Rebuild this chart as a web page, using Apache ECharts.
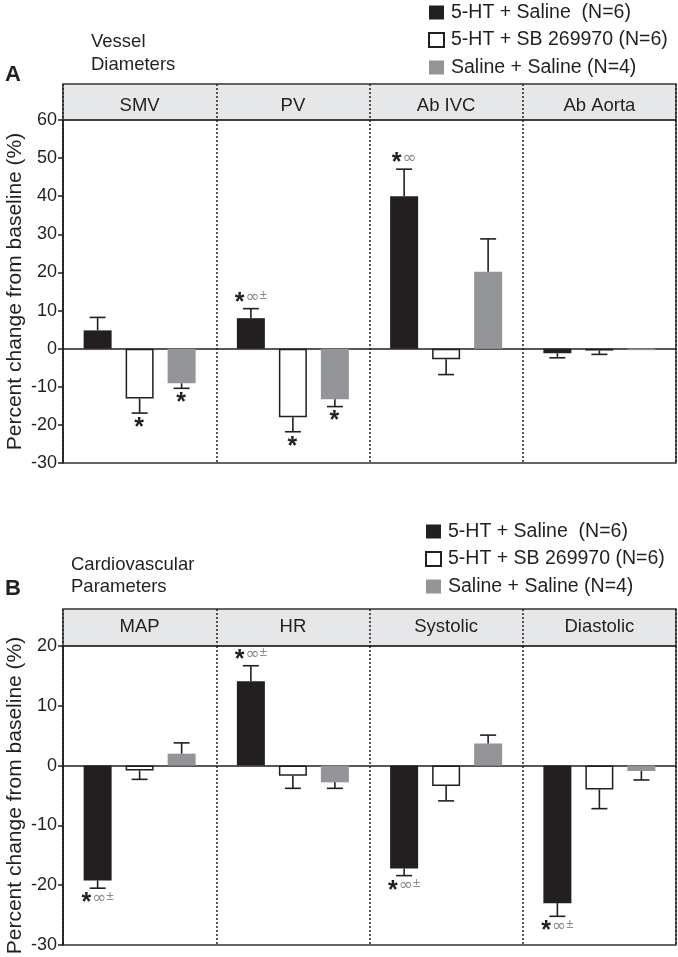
<!DOCTYPE html>
<html>
<head>
<meta charset="utf-8">
<script src="https://cdn.jsdelivr.net/npm/echarts@6/dist/echarts.min.js"></script>
<style>
  html, body { margin: 0; padding: 0; background: #fff; }
  #chart { width: 678px; height: 957px; }
</style>
</head>
<body>
<div id="chart"></div>
<script>
// data
var seriesNames = ['5-HT + Saline  (N=6)', '5-HT + SB 269970 (N=6)', 'Saline + Saline (N=4)'];

var catsA = ['SMV', 'PV', 'Ab IVC', 'Ab Aorta'];
var htSalineA = [4.8, 8.0, 40.0, -1.2];
var htSalineErrA = [3.4, 2.5, 7.1, 1.2];
var htSbA = [-13.1, -18.0, -2.8, -0.5];
var htSbErrA = [3.8, 3.8, 4.0, 1.0];
var salineA = [-9.1, -13.3, 20.2, -0.4];
var salineErrA = [1.3, 1.9, 8.6, 0];
var htSalineAnnA = ['', '*∞±', '*∞', ''];
var htSbAnnA = ['*', '*', '', ''];
var salineAnnA = ['*', '*', '', ''];

var catsB = ['MAP', 'HR', 'Systolic', 'Diastolic'];
var htSalineB = [-19.2, 14.1, -17.2, -23.0];
var htSalineErrB = [1.3, 2.6, 1.2, 2.2];
var htSbB = [-0.8, -1.7, -3.4, -4.0];
var htSbErrB = [1.5, 2.1, 2.5, 3.2];
var salineB = [2.0, -2.8, 3.7, -0.9];
var salineErrB = [1.8, 1.0, 1.4, 1.5];
var htSalineAnnB = ['*∞±', '*∞±', '*∞±', '*∞±'];
var htSbAnnB = ['', '', '', ''];
var salineAnnB = ['', '', '', ''];

var ink = '#231f20';
var barColors = [ink, '#ffffff', '#939598'];
var barW = 28, barGapPx = 14;
var font = 'Liberation Sans, Arial, sans-serif';

var chart = echarts.init(document.getElementById('chart'));

// turns '*∞±' into rich text pieces
function annText(s) {
  var out = '';
  for (var k = 0; k < s.length; k++) {
    var c = s[k];
    if (c === '*') out += '{s|*}';
    else if (c === '∞') out += '{i|∞}';
    else if (c === '±') out += '{p|±}';
  }
  return out;
}

function errSeries(gridIdx, slot, vals, errs, anns) {
  var data = vals.map(function (v, i) { return [i, v, errs[i]]; });
  return {
    type: 'custom',
    name: 'err',
    xAxisIndex: gridIdx * 2 + 1,
    yAxisIndex: gridIdx * 2 + 1,
    z: 5,
    silent: true,
    data: data,
    renderItem: function (params, api) {
      var i = api.value(0), v = api.value(1), e = api.value(2);
      var dir = v >= 0 ? 1 : -1;
      var off = (slot - 1) * (barW + barGapPx);
      var p0 = api.coord([i, v]);
      var p1 = api.coord([i, v + dir * e]);
      var x = p0[0] + off;
      var kids = [];
      if (e > 0) {
        kids.push({ type: 'line', shape: { x1: x, y1: p0[1], x2: x, y2: p1[1] },
          style: { stroke: ink, lineWidth: 1.6 } });
        kids.push({ type: 'line', shape: { x1: x - 8, y1: p1[1], x2: x + 8, y2: p1[1] },
          style: { stroke: ink, lineWidth: 1.6 } });
      }
      var a = anns[params.dataIndex];
      if (a) {
        kids.push({
          type: 'text',
          x: x,
          y: p1[1] + (dir > 0 ? -11 : 10),
          style: {
            text: annText(a),
            align: 'center',
            verticalAlign: 'middle',
            rich: {
              s: { fontSize: 25, fontWeight: 'bold', fill: ink, fontFamily: font, padding: [10, 1, 0, 0] },
              i: { fontSize: 17, fill: '#8a8a8a', fontFamily: 'DejaVu Sans' },
              p: { fontSize: 13, fill: '#8a8a8a', fontFamily: font, padding: [0, 0, 4, 0] }
            }
          }
        });
      }
      return { type: 'group', children: kids };
    }
  };
}

function barSeries(gridIdx, slot, vals) {
  return {
    type: 'bar',
    name: seriesNames[slot],
    xAxisIndex: gridIdx * 2 + 1,
    yAxisIndex: gridIdx * 2 + 1,
    barWidth: barW,
    barGap: '50%',
    z: 3,
    itemStyle: slot === 1
      ? { color: '#ffffff', borderColor: ink, borderWidth: 1.5 }
      : { color: barColors[slot] },
    data: vals
  };
}

function headerAxis(gridIdx, cats, margin) {
  return {
    type: 'category',
    gridIndex: gridIdx * 2,
    data: cats,
    position: 'top',
    axisLine: { show: false },
    axisTick: { show: false },
    axisLabel: { inside: true, margin: margin, verticalAlign: 'middle',
      fontSize: 18.5, color: ink, fontFamily: font },
    splitLine: { show: true, interval: 0, lineStyle: { color: ink, width: 1.5, type: [2, 2] } }
  };
}

function mainXAxis(gridIdx, cats) {
  return {
    type: 'category',
    gridIndex: gridIdx * 2 + 1,
    data: cats,
    axisLine: { show: true, onZero: true, lineStyle: { color: ink, width: 1.5 } },
    axisTick: { show: false },
    axisLabel: { show: false },
    splitLine: { show: true, interval: 0, lineStyle: { color: ink, width: 1.5, type: [2, 2] } }
  };
}

function mainYAxis(gridIdx, min, max) {
  return {
    type: 'value',
    gridIndex: gridIdx * 2 + 1,
    min: min, max: max, interval: 10,
    name: 'Percent change from baseline (%)',
    nameLocation: 'middle',
    nameRotate: 90,
    nameGap: 37,
    nameMoveOverlap: false,
    nameTextStyle: { fontSize: 21, color: ink, fontFamily: font },
    axisLine: { show: true, lineStyle: { color: ink, width: 1.5 } },
    axisTick: { show: true, length: 5, lineStyle: { color: ink, width: 1.5 } },
    axisLabel: { fontSize: 18, color: ink, fontFamily: font, margin: 6 },
    splitLine: { show: false }
  };
}

function legendFor(left, top) {
  return {
    orient: 'vertical',
    left: left, top: top,
    padding: 0,
    icon: 'rect',
    itemWidth: 15, itemHeight: 14,
    itemGap: 7.5,
    data: seriesNames,
    selectedMode: false,
    textStyle: { fontSize: 19.5, lineHeight: 20, color: ink, fontFamily: font, padding: [0, 0, 0, 2] }
  };
}

function gridBox(top, height, bg) {
  return { left: 63, right: 2, top: top, height: height, show: true,
    backgroundColor: bg, borderColor: '#333', borderWidth: 1.5, outerBoundsMode: 'none' };
}

var option = {
  backgroundColor: '#fff',
  animation: false,
  title: [
    { text: 'A', left: 5, top: 64, padding: 0, textStyle: { fontSize: 22, lineHeight: 22, fontWeight: 'bold', color: ink, fontFamily: font } },
    { text: 'Vessel\nDiameters', left: 91, top: 30, padding: 0, textStyle: { fontSize: 18.5, lineHeight: 23.5, fontWeight: 'normal', color: ink, fontFamily: font } },
    { text: 'B', left: 5, top: 578, padding: 0, textStyle: { fontSize: 22, lineHeight: 22, fontWeight: 'bold', color: ink, fontFamily: font } },
    { text: 'Cardiovascular\nParameters', left: 71, top: 554, padding: 0, textStyle: { fontSize: 18.5, lineHeight: 22, fontWeight: 'normal', color: ink, fontFamily: font } }
  ],
  legend: [legendFor(428, 2.5), legendFor(425, 521.5)],
  grid: [
    gridBox(84, 36, '#e6e7e8'),
    gridBox(120, 343, 'transparent'),
    gridBox(609, 37, '#e6e7e8'),
    gridBox(646, 299, 'transparent')
  ],
  xAxis: [
    headerAxis(0, catsA, 22),
    mainXAxis(0, catsA),
    headerAxis(1, catsB, 18),
    mainXAxis(1, catsB)
  ],
  yAxis: [
    { type: 'value', gridIndex: 0, show: false },
    mainYAxis(0, -30, 60),
    { type: 'value', gridIndex: 2, show: false },
    mainYAxis(1, -30, 20)
  ],
  series: [
    barSeries(0, 0, htSalineA),
    barSeries(0, 1, htSbA),
    barSeries(0, 2, salineA),
    errSeries(0, 0, htSalineA, htSalineErrA, htSalineAnnA),
    errSeries(0, 1, htSbA, htSbErrA, htSbAnnA),
    errSeries(0, 2, salineA, salineErrA, salineAnnA),
    barSeries(1, 0, htSalineB),
    barSeries(1, 1, htSbB),
    barSeries(1, 2, salineB),
    errSeries(1, 0, htSalineB, htSalineErrB, htSalineAnnB),
    errSeries(1, 1, htSbB, htSbErrB, htSbAnnB),
    errSeries(1, 2, salineB, salineErrB, salineAnnB)
  ]
};

chart.setOption(option);
</script>
</body>
</html>
